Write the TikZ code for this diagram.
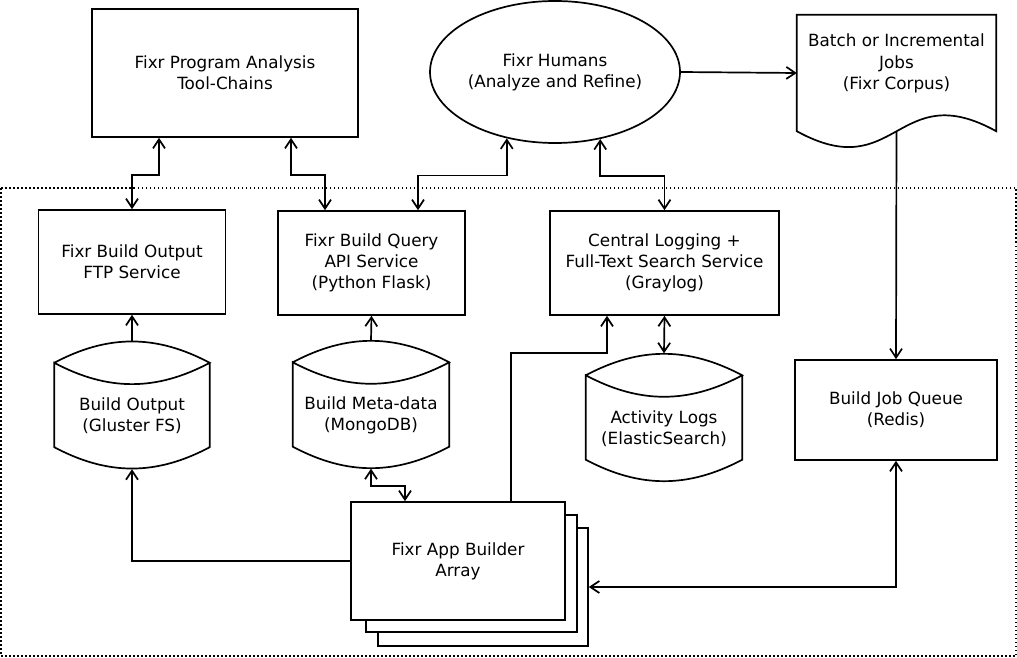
\documentclass[tikz,border=0pt]{standalone}
\usepackage{fontspec}
\setmainfont{DejaVu Sans}
\usetikzlibrary{shapes.geometric, arrows.meta, positioning}
\tikzset{>={Straight Barb[length=9pt,width=12pt]}}
\tikzset{
  box/.style={rectangle, draw, line width=1.7pt, fill=white, inner sep=0pt, align=center},
  store/.style={rectangle, inner sep=0pt, align=center, minimum width=155pt, minimum height=106pt},
  line/.style={line width=1.7pt},
  arrow/.style={->, line width=1.7pt},
  twoway/.style={<->, line width=1.7pt},
  frame/.style={line width=1.5pt, dash pattern=on 1.5pt off 2.5pt}
}

\begin{document}
\begin{tikzpicture}[x=1pt, y=1pt, font=\fontsize{16.8}{21.2}\selectfont]
\useasboundingbox (0,0) rectangle (1017,-658);

% Cluster frame
\draw[frame] (1,-188) rectangle (1016,-656);

% Top row
\node (tools) [box, minimum width=266pt, minimum height=128pt] at (225,-73) {Fixr Program Analysis\\Tool-Chains};
\node (humans) [ellipse, draw, line width=1.7pt, inner sep=0pt, align=center, minimum width=250pt, minimum height=142pt] at (555,-72) {Fixr Humans\\(Analyze and Refine)};
\node (corpus) [rectangle, inner sep=0pt, minimum width=199pt, minimum height=116pt] at (896.5,-73) {};
\node (corpustext) [align=center] at (896.5,-63.5) {Batch or Incremental\\Jobs\\(Fixr Corpus)};
\draw[line] (corpus.north west) -- (corpus.south west) .. controls +(100,-55) and +(-99.5,55) .. (corpus.south east) -- (corpus.north east) -- cycle;

% Services
\node (ftp) [box, minimum width=187pt, minimum height=104pt] at (132,-262) {Fixr Build Output\\FTP Service};
\node (query) [box, minimum width=187pt, minimum height=104pt] at (371.5,-263) {Fixr Build Query\\API Service\\(Python Flask)};
\node (logging) [box, minimum width=229pt, minimum height=104pt] at (664.5,-263) {Central Logging +\\Full-Text Search Service\\(Graylog)};

% Storage
\node (gluster) [store] at (132,-416) {Build Output\\(Gluster FS)};
\node (mongo) [store, minimum width=156pt] at (371,-415.5) {Build Meta-data\\(MongoDB)};
\node (actlogs) [store, minimum width=156pt] at (664,-428.5) {Activity Logs\\(ElasticSearch)};
\foreach \n in {gluster, mongo, actlogs} {
  \draw[line] (\n.north west) to[out=28, in=152] (\n.north east) to[out=208, in=-28] (\n.north west)
    -- ([yshift=22pt]\n.south west) to[out=-28, in=208] ([yshift=22pt]\n.south east) -- (\n.north east);
}

\node (queue) [box, minimum width=202pt, minimum height=100pt] at (896,-410) {Build Job Queue\\(Redis)};

% Builder array
\node (builder3) [box, minimum width=210pt, minimum height=118pt] at (483,-587) {};
\node (builder2) [box, minimum width=211pt, minimum height=117pt] at (471.5,-573.5) {};
\node (builder) [box, minimum width=214pt, minimum height=118pt] at (458,-561) {Fixr App Builder\\Array};

% Connectors
\draw[twoway] ([xshift=-66pt]tools.south) -- ++(0,-37) -| (ftp.north);
\draw[twoway] ([xshift=66pt]tools.south) -- ++(0,-37) -| ([xshift=-46.5pt]query.north);
\draw[twoway] (humans.234.5) -- ++(0,-37) -| ([xshift=46.5pt]query.north);
\draw[twoway] (humans.304.2) -- ++(0,-37) -| (logging.north);
\draw[arrow] (humans.east) -- (corpus.west);
\draw[arrow] (corpus.south) -- (queue.north);
\draw[arrow] ([yshift=22pt]gluster.north) -- (ftp.south);
\draw[arrow] ([yshift=22pt]mongo.north) -- (query.south);
\draw[twoway] ([yshift=22pt]actlogs.north) -- (logging.south);
\draw[arrow] ([xshift=53pt]builder.north) -- ++(0,148) -| ([xshift=-57.5pt]logging.south);
\draw[arrow] (builder.west) -| (gluster.south);
\draw[twoway] (mongo.south) -- ++(0,-17) -| ([xshift=-53pt]builder.north);
\draw[twoway] (queue.south) |- (builder3.east);

\end{tikzpicture}
\end{document}
